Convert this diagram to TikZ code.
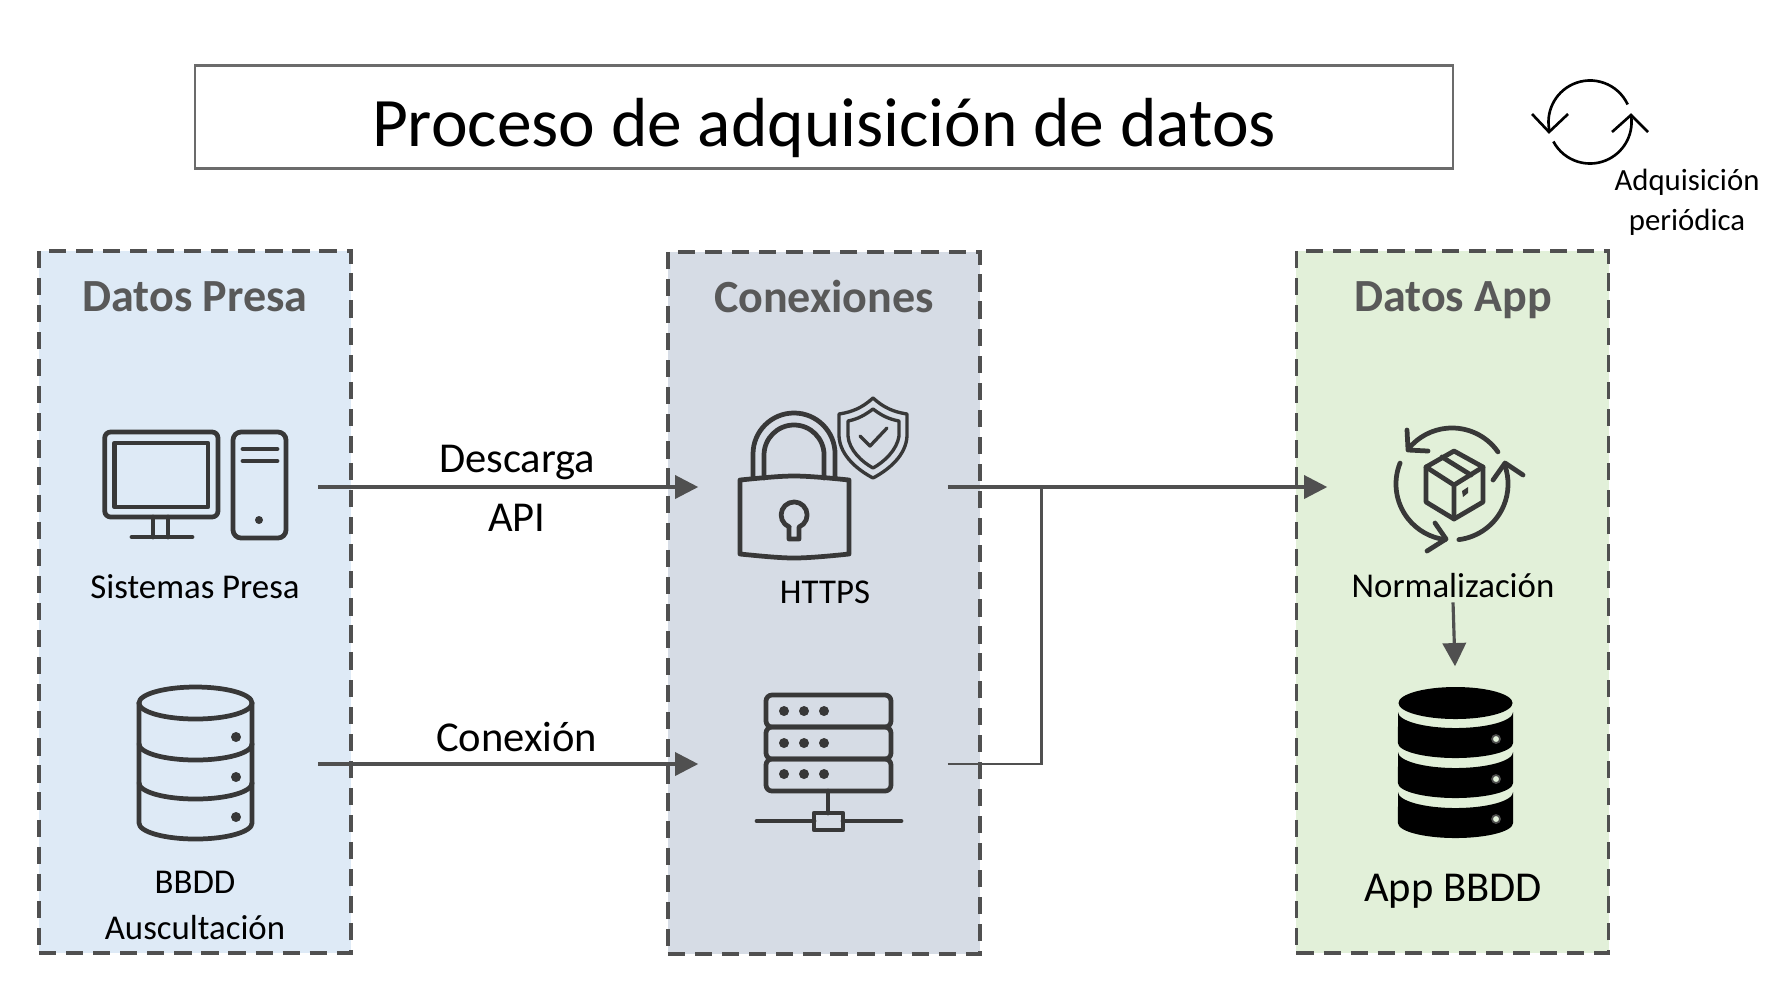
\documentclass[tikz,border=0pt]{standalone}
\usepackage{fontspec}
\setmainfont{Carlito}
\usepackage{xcolor}
\usetikzlibrary{arrows.meta, positioning}
\definecolor{presablue}{HTML}{DEEAF6}
\definecolor{conexgray}{HTML}{D6DCE5}
\definecolor{appgreen}{HTML}{E2F0D9}
\definecolor{linegray}{HTML}{505050}
\tikzstyle{titlebox} = [rectangle, minimum width=12.57cm, minimum height=1.03cm, text centered, text height=0.58cm, text depth=0cm, draw=black!58, line width=0.75pt, font=\fontsize{19.75}{22}\selectfont]
\tikzstyle{panel} = [rectangle, minimum width=3.12cm, minimum height=7.02cm, draw=linegray, line width=1.05pt, dash pattern=on 4.9pt off 2.8pt]
\tikzstyle{heading} = [anchor=base, text=black!65, font=\fontsize{13.1}{15}\selectfont\bfseries]
\tikzstyle{label} = [text centered, align=center, font=\fontsize{9.9}{13.1}\selectfont]
\tikzstyle{biglabel} = [anchor=base, text centered, align=center, font=\fontsize{12.1}{16.4}\selectfont]
\tikzstyle{iconbox} = [rectangle, inner sep=0pt, minimum width=2.48cm, minimum height=1.2cm]
\tikzstyle{arrow} = [draw=linegray, line width=0.9pt, -{Triangle[length=6.6pt,width=6.6pt]}]
\tikzstyle{thinline} = [draw=linegray, line width=0.6pt]
\tikzstyle{iconline} = [draw=black!78, line width=1.35pt, line join=round, line cap=round]
\tikzstyle{updateline} = [draw=black, line width=0.75pt]
\begin{document}
\begin{tikzpicture}[x=0.01cm, y=-0.01cm]
\useasboundingbox (0,0) rectangle (1783,987);

\node (title) [titlebox] at (824,117) {Proceso de adquisición de datos};

\node (presa) [panel, fill=presablue] at (195,602) {};
\node (conex) [panel, fill=conexgray] at (824,603) {};
\node (app) [panel, fill=appgreen] at (1452.5,602) {};

\node (presahead) [heading] at (195,311.5) {Datos Presa};
\node (conexhead) [heading] at (824,312.5) {Conexiones};
\node (apphead) [heading] at (1453,311.5) {Datos App};

\node (sistemas) [iconbox] at (193.5,487) {};
\node (bbdd) [iconbox] at (193.5,764) {};
\node (https) [iconbox] at (823,487) {};
\node (servidor) [iconbox] at (823,764) {};
\node (norm) [iconbox] at (1452,487) {};
\node (dbapp) [iconbox, minimum width=1.15cm, minimum height=1.72cm] at (1455,753) {};
\coordinate (union) at (1041.5,487);
\coordinate (normcentre) at (1452,484);
\coordinate (updatecentre) at (1590,122);

\node (sistemaslabel) [label] at (195,586.5) {Sistemas Presa};
\node (bbddlabel) [label] at (195,905.5) {BBDD\\Auscultación};
\node (httpslabel) [label] at (825,592) {HTTPS};
\node (normlabel) [label, inner sep=1pt] at (1453,586) {Normalización};
\node (applabel) [biglabel] at (1453,901) {App BBDD};
\node (updatelabel) [label, font=\fontsize{8.75}{11.4}\selectfont] at (1687,202) {Adquisición\\periódica};
\node (descarga) [biglabel] at (517,472) {Descarga};
\node (api) [biglabel] at (517,531) {API};
\node (conexion) [biglabel] at (516.5,751) {Conexión};

\draw [arrow] (sistemas) -- (https);
\draw [arrow] (bbdd) -- (servidor);
\draw [arrow] (https) -- (norm);
\draw [thinline] (servidor) -| (union);
\draw [arrow] (normlabel.south) -- (dbapp.north);

% sistemas
\draw [iconline, rounded corners=1.7pt] (104.7,432) rectangle (218,517);
\draw [iconline] (114.7,443) rectangle (208,507);
\draw [iconline] (153,517) -- (153,537) (168,517) -- (168,537) (132,537) -- (192,537);
\draw [iconline, rounded corners=2.3pt] (233,432) rectangle (286,538);
\draw [iconline] (243,449) -- (277,449) (243,461) -- (277,461);
\fill [black!78] (259,520) circle (0.04cm);

% bbdd
\draw [iconline] (195.5,703) circle [x radius=0.565cm, y radius=0.16cm];
\draw [iconline] (139,703) -- (139,823) arc [start angle=180, end angle=360, x radius=0.565cm, y radius=0.16cm] -- (252,703);
\draw [iconline] (139,744) arc [start angle=180, end angle=360, x radius=0.565cm, y radius=0.16cm];
\draw [iconline] (139,783) arc [start angle=180, end angle=360, x radius=0.565cm, y radius=0.16cm];
\foreach \y in {737,777,817}
  \fill [black!78] (236,\y) circle (0.05cm);

% https
\draw [iconline] (740,480) .. controls (760,478) and (780,476) .. (794,476) .. controls (808,476) and (830,478) .. (849,480) -- (849,554) .. controls (830,556) and (808,558) .. (794,558) .. controls (780,558) and (760,556) .. (740,554) -- cycle;
\draw [iconline] (753,478) -- (753,454) arc [start angle=180, end angle=0, radius=0.41cm] -- (835,478);
\draw [iconline] (764,478) -- (764,455) arc [start angle=180, end angle=0, radius=0.30cm] -- (824,478);
\draw [iconline] (789,527) -- (789,539) -- (799,539) -- (799,527) arc [start angle=-68, end angle=248, radius=0.13cm];
\draw [iconline, line width=0.95pt] (873,398) .. controls (862,408) and (852,412) .. (839,414) -- (839,436) .. controls (840,456) and (858,470) .. (873,478) .. controls (888,470) and (906,456) .. (907,436) -- (907,414) .. controls (894,412) and (884,408) .. (873,398) -- cycle;
\draw [iconline, line width=0.95pt] (873,409) .. controls (865,415) and (858,419) .. (848,421) -- (848,436) .. controls (849,450) and (862,462) .. (873,468) .. controls (884,462) and (897,450) .. (899,436) -- (899,421) .. controls (888,419) and (881,415) .. (873,409) -- cycle;
\draw [iconline, line width=0.95pt] (860,436) -- (870,446) -- (887,428);

% servidor
\foreach \top/\bot in {695/727,727/759,759/791}
  \draw [iconline, rounded corners=1.7pt] (766,\top) rectangle (891,\bot);
\foreach \y in {711,743,774}
  \foreach \x in {784,804,824}
    \fill [black!78] (\x,\y) circle (0.05cm);
\draw [iconline] (828,791) -- (828,813);
\draw [iconline] (814,813) rectangle (843,830);
\draw [iconline] (757,821) -- (814,821) (843,821) -- (901,821);

% normalizacion
\draw [iconline] ([shift={(35:0.56cm)}]normcentre) arc [start angle=35, end angle=141, radius=0.56cm];
\draw [iconline] ([shift={(158:0.56cm)}]normcentre) arc [start angle=158, end angle=263, radius=0.56cm];
\draw [iconline] ([shift={(277:0.56cm)}]normcentre) arc [start angle=277, end angle=380, radius=0.56cm];
\draw [iconline] (1407,430) -- (1408,450) -- (1428,451);
\draw [iconline] (1435,523) -- (1446,539) -- (1427,551);
\draw [iconline] (1493,480) -- (1505,463) -- (1523,475);
\draw [iconline] (1454,451) -- (1483,467) -- (1483,502) -- (1454,519) -- (1426,502) -- (1426,467) -- cycle;
\draw [iconline] (1426,467) -- (1454,485) -- (1483,467) (1454,485) -- (1454,519);
\draw [iconline] (1442,457) -- (1471,475);
\fill [black!78] (1462,491) -- (1468,487) -- (1468,493) -- (1463,497) -- cycle;

% dbapp
\fill [black] (1455.5,703) circle [x radius=0.57cm, y radius=0.16cm];
\foreach \y in {0,40,80}
  \fill [black] (1398,712+\y) arc [start angle=180, end angle=360, x radius=0.575cm, y radius=0.16cm] -- (1513,743+\y) arc [start angle=0, end angle=-180, x radius=0.575cm, y radius=0.15cm] -- cycle;
\foreach \y in {739,779,819}
  \draw [fill=appgreen, draw=black!70, line width=0.5pt] (1496,\y) circle (0.04cm);

% adquisicion periodica
\draw [updateline] ([shift={(25:0.415cm)}]updatecentre) arc [start angle=25, end angle=194, radius=0.415cm];
\draw [updateline] ([shift={(208:0.415cm)}]updatecentre) arc [start angle=208, end angle=370, radius=0.415cm];
\draw [updateline] (1532,114) -- (1549,132) -- (1568,114);
\draw [updateline] (1612,132) -- (1631,115) -- (1648,132);
\end{tikzpicture}
\end{document}
